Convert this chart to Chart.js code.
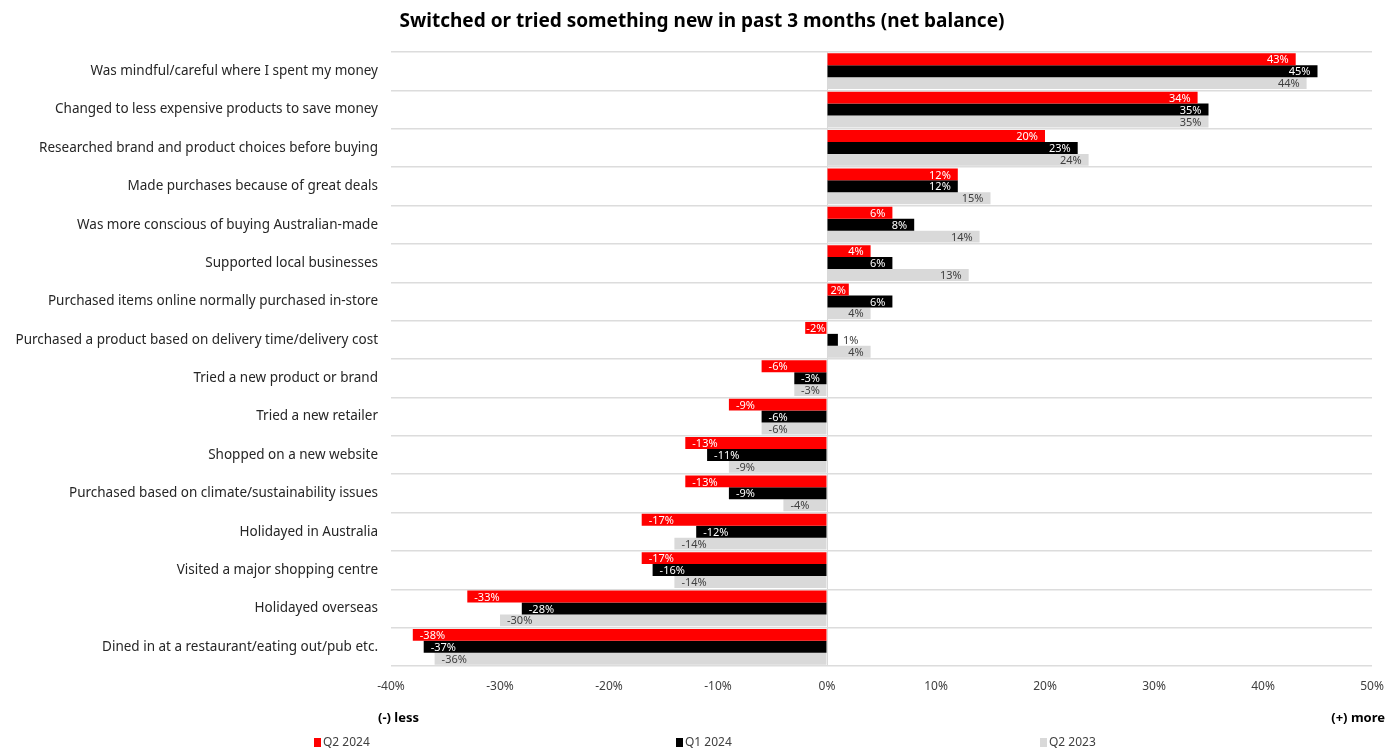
<!DOCTYPE html>
<html>
<head>
<meta charset="utf-8">
<script src="https://cdn.jsdelivr.net/npm/chart.js@4.4.1/dist/chart.umd.min.js"></script>
<style>
  html, body { margin: 0; padding: 0; background: #fff; }
  body { width: 1387px; height: 749px; position: relative; overflow: hidden; font-family: "Noto Sans", sans-serif; }
  #wrap { position: absolute; left: 0; top: 0; width: 1387px; height: 749px; }
  .title { position: absolute; left: 0; width: 1404px; top: 7px; text-align: center; font-size: 19px; font-weight: bold; color: #000; }
  .side { position: absolute; top: 708px; font-size: 13px; font-weight: bold; color: #000; }
  .leg { position: absolute; top: 733px; font-size: 12px; color: #404040; white-space: nowrap; }
  .leg i { display: inline-block; width: 7px; height: 9px; margin-right: 2px; vertical-align: -1px; }
</style>
</head>
<body>
<div id="wrap"><canvas id="chart" width="1387" height="749"></canvas></div>
<div class="title">Switched or tried something new in past 3 months (net balance)</div>
<div class="side" style="left:378px">(-) less</div>
<div class="side" style="right:2px">(+) more</div>
<div class="leg" style="left:314px"><i style="background:#ff0000"></i>Q2 2024</div>
<div class="leg" style="left:676px"><i style="background:#000000"></i>Q1 2024</div>
<div class="leg" style="left:1040px"><i style="background:#d9d9d9"></i>Q2 2023</div>
<script>
const categories = [
    'Was mindful/careful where I spent my money',
    'Changed to less expensive products to save money',
    'Researched brand and product choices before buying',
    'Made purchases because of great deals',
    'Was more conscious of buying Australian-made',
    'Supported local businesses',
    'Purchased items online normally purchased in-store',
    'Purchased a product based on delivery time/delivery cost',
    'Tried a new product or brand',
    'Tried a new retailer',
    'Shopped on a new website',
    'Purchased based on climate/sustainability issues',
    'Holidayed in Australia',
    'Visited a major shopping centre',
    'Holidayed overseas',
    'Dined in at a restaurant/eating out/pub etc.'
];
const seriesNames = ['Q2 2024', 'Q1 2024', 'Q2 2023'];
const q2_2024 = [43, 34, 20, 12, 6, 4, 2, -2, -6, -9, -13, -13, -17, -17, -33, -38];
const q1_2024 = [45, 35, 23, 12, 8, 6, 6, 1, -3, -6, -11, -9, -12, -16, -28, -37];
const q2_2023 = [44, 35, 24, 15, 14, 13, 4, 4, -3, -6, -9, -4, -14, -14, -30, -36];
const xTicks = [-40, -30, -20, -10, 0, 10, 20, 30, 40, 50];

const barColors = ['#ff0000', '#000000', '#d9d9d9'];
const insideText = ['#ffffff', '#ffffff', '#404040'];

// value labels at the bar ends
const barLabels = {
    id: 'barLabels',
    afterDatasetsDraw(chart) {
        const ctx = chart.ctx;
        ctx.save();
        ctx.font = '11px "Noto Sans", sans-serif';
        ctx.textBaseline = 'middle';
        chart.data.datasets.forEach((ds, di) => {
            const meta = chart.getDatasetMeta(di);
            meta.data.forEach((bar, i) => {
                const v = ds.data[i];
                const txt = v + '%';
                const w = ctx.measureText(txt).width;
                const len = Math.abs(bar.x - bar.base);
                const fits = w <= len + 2;
                const pad = fits ? Math.max(1, Math.min(7, (len - w) / 2)) : 5;
                let x, align, color;
                if (v >= 0) {
                    if (fits) { x = bar.x - pad; align = 'right'; color = insideText[di]; }
                    else { x = bar.x + pad; align = 'left'; color = '#404040'; }
                } else {
                    if (fits) { x = bar.x + pad; align = 'left'; color = insideText[di]; }
                    else { x = bar.x - pad; align = 'right'; color = '#404040'; }
                }
                ctx.textAlign = align;
                ctx.fillStyle = color;
                ctx.fillText(txt, x, bar.y + 1);
            });
        });
        ctx.restore();
    }
};

new Chart(document.getElementById('chart'), {
    type: 'bar',
    data: {
        labels: categories,
        datasets: [
            { label: seriesNames[0], data: q2_2024, backgroundColor: barColors[0] },
            { label: seriesNames[1], data: q1_2024, backgroundColor: barColors[1] },
            { label: seriesNames[2], data: q2_2023, backgroundColor: barColors[2] }
        ]
    },
    options: {
        indexAxis: 'y',
        responsive: false,
        animation: false,
        devicePixelRatio: 1,
        layout: { padding: { left: 0, right: 15, top: 52, bottom: 0 } },
        datasets: { bar: { categoryPercentage: 0.93, barPercentage: 1.0 } },
        plugins: {
            legend: { display: false },
            tooltip: { enabled: false }
        },
        scales: {
            x: {
                min: -40,
                max: 50,
                afterBuildTicks: (s) => { s.ticks = xTicks.map(v => ({ value: v })); },
                afterFit: (s) => { s.height = 83; s.paddingLeft = 0; s.paddingRight = 0; },
                grid: {
                    drawTicks: false,
                    color: (c) => c.tick && c.tick.value === 0 ? '#d9d9d9' : 'rgba(0,0,0,0)'
                },
                border: { display: false },
                ticks: {
                    padding: 13,
                    color: '#404040',
                    font: { family: '"Noto Sans", sans-serif', size: 12 },
                    callback: (v) => v + '%'
                }
            },
            y: {
                afterFit: (s) => { s.width = 391; },
                grid: { offset: true, color: '#dcdcdc', lineWidth: 1.5, drawTicks: false },
                border: { display: false },
                ticks: {
                    padding: 13,
                    color: '#262626',
                    font: { family: '"Noto Sans", sans-serif', size: 13.5 }
                }
            }
        }
    },
    plugins: [barLabels]
});
</script>
</body>
</html>
